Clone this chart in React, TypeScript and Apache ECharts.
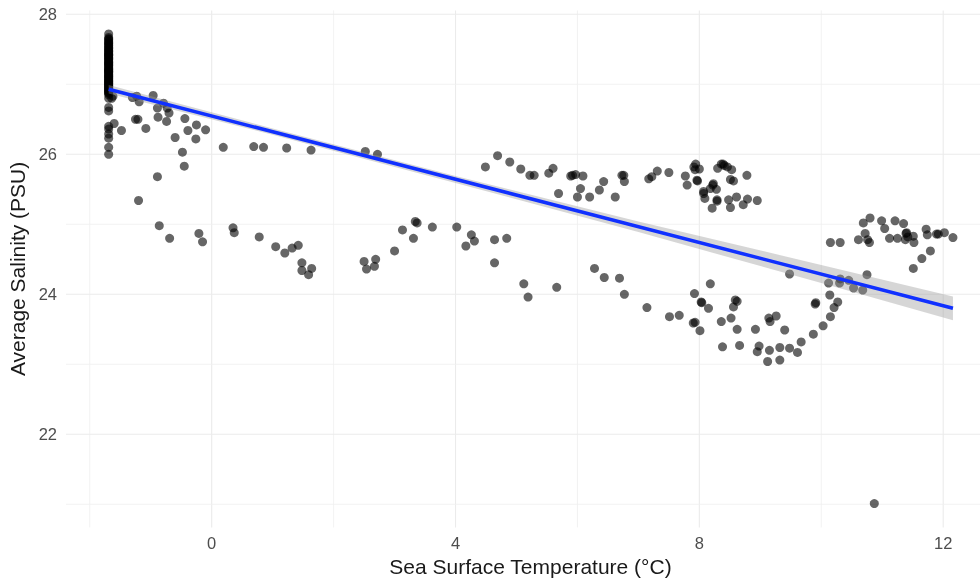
import { useEffect, useRef } from "react";
import * as echarts from "echarts";

// Sea surface temperature (°C) vs. average salinity (PSU)

// Months at the freezing point: many observations share the same temperature
const FREEZING_SST = -1.69;
const freezingSalinity = [
  27.72, 27.67, 27.65, 27.64, 27.62, 27.6, 27.59, 27.58, 27.56, 27.55, 27.53, 27.52,
  27.51, 27.49, 27.48, 27.47, 27.46, 27.44, 27.43, 27.42, 27.42, 27.41, 27.39, 27.38,
  27.37, 27.36, 27.35, 27.33, 27.32, 27.31, 27.3, 27.29, 27.28, 27.27, 27.26, 27.24,
  27.23, 27.22, 27.21, 27.2, 27.19, 27.18, 27.18, 27.17, 27.15, 27.14, 27.13, 27.12,
  27.11, 27.1, 27.09, 27.08, 27.07, 27.05, 27.05, 27.04, 27.03, 27.02, 27.01, 27.0,
  26.99, 26.98, 26.97, 26.96, 26.95, 26.94, 26.93, 26.92, 26.91, 26.9, 26.89, 26.88,
  26.87, 26.85, 26.8, 26.67, 26.62, 26.4, 26.36, 26.29, 26.23, 26.1, 26.0,
];

// [sst, salinity] pairs
const coldScatter = [
  [-1.62, 26.83], [-1.64, 26.8], [-1.6, 26.44], [-1.3, 26.81], [-1.23, 26.83], [-1.19, 26.75],
  [-0.96, 26.84], [-0.89, 26.66], [-0.79, 26.73], [-0.73, 26.66], [-0.7, 26.59], [-0.88, 26.53],
  [-0.74, 26.47], [-1.25, 26.5], [-1.21, 26.5], [-1.48, 26.34], [-1.08, 26.37], [-0.6, 26.24],
  [-0.44, 26.51], [-0.39, 26.34], [-0.25, 26.42], [-0.1, 26.35], [-0.26, 26.22], [-0.48, 26.03],
  [-0.45, 25.83], [-0.89, 25.68], [-1.2, 25.34],
];

const upperBranch = [
  [0.19, 26.1], [0.69, 26.11], [0.85, 26.1], [1.23, 26.09], [1.63, 26.06], [2.52, 26.04],
  [2.72, 26.0], [4.49, 25.82], [4.69, 25.98], [4.89, 25.89], [5.07, 25.79], [5.22, 25.7],
  [5.29, 25.7], [5.53, 25.73], [5.6, 25.8], [5.69, 25.44], [5.89, 25.69], [5.92, 25.7],
  [5.97, 25.71], [6.09, 25.69], [6.05, 25.51], [6.0, 25.39], [6.2, 25.39], [6.36, 25.49],
  [6.43, 25.61], [6.62, 25.39], [6.73, 25.7], [6.76, 25.7], [6.77, 25.61], [7.17, 25.65],
  [7.22, 25.68], [7.31, 25.76], [7.5, 25.74], [7.77, 25.69], [7.8, 25.56], [7.91, 25.82],
  [7.94, 25.86], [7.93, 25.78], [7.96, 25.63], [8.0, 25.79], [7.97, 25.62], [8.07, 25.47],
  [8.07, 25.44], [8.09, 25.37], [8.18, 25.51], [8.22, 25.56], [8.23, 25.58], [8.28, 25.5],
  [8.29, 25.35], [8.29, 25.33], [8.21, 25.23], [8.3, 25.8], [8.36, 25.86], [8.41, 25.84],
  [8.39, 25.86], [8.46, 25.82], [8.53, 25.78], [8.51, 25.64], [8.56, 25.62], [8.48, 25.35],
  [8.51, 25.24], [8.61, 25.39], [8.72, 25.28], [8.79, 25.36], [8.78, 25.7], [8.95, 25.34],
];

const lowerBranch = [
  [-0.86, 24.98], [-0.69, 24.8], [-0.21, 24.87], [-0.15, 24.75], [0.35, 24.95], [0.37, 24.88],
  [0.78, 24.82], [1.05, 24.68], [1.2, 24.59], [1.32, 24.66], [1.42, 24.7], [1.48, 24.45],
  [1.48, 24.34], [1.64, 24.37], [1.59, 24.28], [2.5, 24.47], [2.54, 24.36], [2.67, 24.4],
  [2.69, 24.5], [3.0, 24.62], [3.13, 24.92], [3.31, 24.8], [3.34, 25.04], [3.37, 25.02],
  [3.62, 24.96], [4.02, 24.96], [4.26, 24.85], [4.31, 24.76], [4.17, 24.69], [4.64, 24.78],
  [4.64, 24.45], [4.84, 24.8],
];

const summerDip = [
  [5.12, 24.15], [5.19, 23.96], [5.66, 24.1], [6.28, 24.37], [6.44, 24.24], [6.69, 24.23],
  [6.77, 24.0], [7.14, 23.81], [7.51, 23.68], [7.67, 23.7], [7.92, 24.01], [8.03, 23.89],
  [8.04, 23.88], [8.15, 23.8], [8.18, 24.15], [7.9, 23.59], [7.93, 23.6], [8.01, 23.48],
  [8.36, 23.61], [8.52, 23.66], [8.56, 23.82], [8.59, 23.92], [8.62, 23.9], [8.62, 23.5],
  [8.38, 23.25], [8.66, 23.27], [8.92, 23.5], [8.95, 23.18], [8.98, 23.26], [9.14, 23.66],
  [9.16, 23.61], [9.26, 23.69], [9.15, 23.2], [9.12, 23.04], [9.32, 23.24], [9.32, 23.06],
  [9.4, 23.49], [9.48, 23.23], [9.61, 23.17], [9.67, 23.32], [9.48, 24.29], [9.87, 23.43],
  [9.9, 23.86], [9.91, 23.88], [10.03, 23.55], [10.15, 23.68], [10.21, 23.81], [10.27, 23.89],
  [10.14, 23.99], [10.12, 24.16], [10.3, 24.16], [10.31, 24.22], [10.45, 24.2], [10.53, 24.09],
  [10.68, 24.06], [10.75, 24.28],
];

const warmCluster = [
  [10.15, 24.74], [10.31, 24.74], [10.61, 24.78], [10.69, 25.02], [10.8, 25.09], [10.72, 24.87],
  [10.76, 24.78], [10.79, 24.74], [10.99, 25.05], [11.04, 24.94], [11.12, 24.8], [11.21, 25.05],
  [11.25, 24.8], [11.35, 25.01], [11.39, 24.87], [11.4, 24.88], [11.42, 24.82], [11.38, 24.78],
  [11.51, 24.83], [11.52, 24.74], [11.51, 24.37], [11.65, 24.51], [11.79, 24.62], [11.72, 24.93],
  [11.74, 24.85], [11.89, 24.86], [11.92, 24.86], [12.02, 24.88], [12.16, 24.81],
];

const outliers = [[10.87, 21.01]];

// Linear fit and its 95% confidence band
const fitSst = [-1.69, 12.16];
const fitSalinity = [26.93, 23.8];
const bandSst = [-1.69, 1, 4, 7, 10, 12.16];
const bandUpper = [26.99, 26.37, 25.69, 25.04, 24.42, 23.97];
const bandLower = [26.87, 26.28, 25.59, 24.89, 24.16, 23.63];

// Axis ranges and grid lines
const SST_RANGE = [-2.39, 12.85];
const SALINITY_RANGE = [20.67, 28.056];
const sstTicks = [0, 4, 8, 12];
const sstMinor = [-2, 2, 6, 10];
const salinityTicks = [22, 24, 26, 28];
const salinityMinor = [21, 23, 25, 27];

const FONT = '"Liberation Sans", Arial, Helvetica, sans-serif';

export default function App() {
  const ref = useRef<HTMLDivElement>(null);

  useEffect(() => {
    document.body.style.margin = "0";
    if (!ref.current) return;
    const chart = echarts.init(ref.current, undefined, { renderer: "svg" });

    const points = [
      ...freezingSalinity.map((s) => [FREEZING_SST, s]),
      ...coldScatter,
      ...upperBranch,
      ...lowerBranch,
      ...summerDip,
      ...warmCluster,
      ...outliers,
    ];

    // each grid line: [value, vertical?, major?]
    const gridLines = [
      ...sstTicks.map((v) => [v, 1, 1]),
      ...sstMinor.map((v) => [v, 1, 0]),
      ...salinityTicks.map((v) => [v, 0, 1]),
      ...salinityMinor.map((v) => [v, 0, 0]),
    ];

    chart.setOption({
      animation: false,
      textStyle: { fontFamily: FONT },
      grid: { left: 66, right: -15, top: 10.4, bottom: 53.6, outerBoundsMode: "none" },
      xAxis: {
        type: "value",
        min: SST_RANGE[0],
        max: SST_RANGE[1],
        axisLine: { show: false },
        axisTick: { show: false },
        splitLine: { show: false },
        axisLabel: {
          customValues: sstTicks,
          color: "#4d4d4d",
          fontSize: 16.5,
          margin: 7,
          fontFamily: FONT,
        },
        name: "Sea Surface Temperature (°C)",
        nameLocation: "middle",
        nameGap: 28,
        nameTextStyle: { color: "#1a1a1a", fontSize: 21, fontFamily: FONT },
      },
      yAxis: {
        type: "value",
        min: SALINITY_RANGE[0],
        max: SALINITY_RANGE[1],
        axisLine: { show: false },
        axisTick: { show: false },
        splitLine: { show: false },
        axisLabel: {
          customValues: salinityTicks,
          color: "#4d4d4d",
          fontSize: 16.5,
          margin: 9,
          fontFamily: FONT,
        },
        name: "Average Salinity (PSU)",
        nameLocation: "middle",
        nameRotate: 90,
        nameGap: 36,
        nameTextStyle: { color: "#1a1a1a", fontSize: 21, fontFamily: FONT },
      },
      series: [
        {
          type: "custom",
          name: "grid",
          silent: true,
          z: 0,
          data: gridLines,
          renderItem: (params: any, api: any) => {
            const cs = params.coordSys;
            const v = api.value(0);
            const vertical = api.value(1) === 1;
            const major = api.value(2) === 1;
            const style = {
              stroke: major ? "#ebebeb" : "#efefef",
              lineWidth: major ? 1.1 : 0.8,
            };
            if (vertical) {
              const px = api.coord([v, SALINITY_RANGE[0]])[0];
              return {
                type: "line",
                shape: { x1: px, y1: cs.y, x2: px, y2: cs.y + cs.height },
                style,
              };
            }
            const py = api.coord([SST_RANGE[0], v])[1];
            return {
              type: "line",
              shape: { x1: cs.x, y1: py, x2: cs.x + cs.width, y2: py },
              style,
            };
          },
        },
        {
          type: "scatter",
          name: "observations",
          z: 2,
          symbol: "circle",
          symbolSize: 9,
          data: points,
          itemStyle: { color: "#000000", opacity: 0.6 },
        },
        {
          type: "custom",
          name: "confidence band",
          silent: true,
          z: 3,
          data: [[fitSst[0], fitSalinity[0]]],
          renderItem: (_params: any, api: any) => {
            const upper = bandSst.map((x, i) => api.coord([x, bandUpper[i]]));
            const lower = bandSst
              .map((x, i) => api.coord([x, bandLower[i]]))
              .reverse();
            return {
              type: "polygon",
              shape: { points: [...upper, ...lower] },
              style: { fill: "#999999", opacity: 0.4 },
            };
          },
        },
        {
          type: "line",
          name: "linear fit",
          z: 4,
          symbol: "none",
          data: fitSst.map((x, i) => [x, fitSalinity[i]]),
          lineStyle: { color: "#1030FF", width: 3.5 },
        },
      ],
    });

    return () => chart.dispose();
  }, []);

  return (
    <div
      ref={ref}
      style={{ position: "fixed", left: 0, top: 0, width: 980, height: 581 }}
    />
  );
}
